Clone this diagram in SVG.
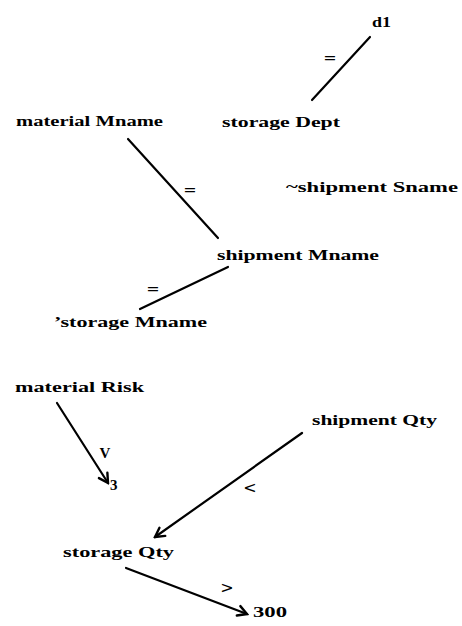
<svg xmlns="http://www.w3.org/2000/svg" width="462" height="626" viewBox="0 0 462 626">
<style>
  .t { font-family: "Liberation Serif", "Times New Roman", serif; font-size: 14px; font-weight: bold; fill: #000; }
  .lb { font-family: "DejaVu Sans", "Liberation Sans", sans-serif; font-size: 16px; fill: #000; text-anchor: middle; }
  .v { font-family: "Liberation Serif", "Times New Roman", serif; font-size: 15px; font-weight: bold; fill: #000; text-anchor: middle; }
  .e { stroke: #000; stroke-width: 2.2; fill: none; stroke-linecap: round; }
  .a { stroke: #000; stroke-width: 2.2; fill: none; stroke-linecap: round; marker-end: url(#arr); }
</style>
<defs>
  <marker id="arr" markerWidth="14" markerHeight="14" viewBox="-2 -2 14 14" refX="10" refY="5" orient="auto" markerUnits="userSpaceOnUse">
    <path d="M1,0 L10,5 L1,10" stroke="#000" stroke-width="2.4" fill="none" stroke-linecap="round" stroke-linejoin="miter"/>
  </marker>
</defs>
<rect width="462" height="626" fill="#fff"/>
<g id="connectors">
  <line class="e" x1="370" y1="37" x2="312" y2="100"/>
  <line class="e" x1="128" y1="139" x2="218" y2="238"/>
  <line class="e" x1="228" y1="267" x2="140" y2="309"/>
  <line class="a" x1="57" y1="403" x2="108" y2="483"/>
  <line class="a" x1="302" y1="433" x2="155" y2="537"/>
  <line class="a" x1="126" y1="568" x2="247" y2="614"/>
  <text class="lb" x="330" y="63">=</text>
  <text class="lb" x="190" y="195">=</text>
  <text class="lb" x="153" y="294">=</text>
  <text class="v" x="105" y="458">V</text>
  <text class="lb" x="250" y="493">&lt;</text>
  <text class="lb" x="227" y="593">&gt;</text>
</g>
<g id="n-d1"><text class="t" x="372" y="27" style="font-size:15px" textLength="19" lengthAdjust="spacingAndGlyphs">d1</text></g>
<g id="n-material-mname"><text class="t" x="16" y="126" textLength="147" lengthAdjust="spacingAndGlyphs">material Mname</text></g>
<g id="n-storage-dept"><text class="t" x="222" y="127" textLength="118" lengthAdjust="spacingAndGlyphs">storage Dept</text></g>
<g id="n-shipment-sname"><text class="t" x="286" y="192" textLength="172" lengthAdjust="spacingAndGlyphs">~shipment Sname</text></g>
<g id="n-shipment-mname"><text class="t" x="217" y="260" textLength="162" lengthAdjust="spacingAndGlyphs">shipment Mname</text></g>
<g id="n-storage-mname"><text class="t" x="54" y="327" textLength="153" lengthAdjust="spacingAndGlyphs">’storage Mname</text></g>
<g id="n-material-risk"><text class="t" x="15" y="392" textLength="129" lengthAdjust="spacingAndGlyphs">material Risk</text></g>
<g id="n-3"><text class="t" x="110" y="490" style="font-size:15px">3</text></g>
<g id="n-shipment-qty"><text class="t" x="312" y="425" textLength="125" lengthAdjust="spacingAndGlyphs">shipment Qty</text></g>
<g id="n-storage-qty"><text class="t" x="63" y="557" textLength="111" lengthAdjust="spacingAndGlyphs">storage Qty</text></g>
<g id="n-300"><text class="t" x="253" y="617" textLength="34" lengthAdjust="spacingAndGlyphs">300</text></g>
</svg>
